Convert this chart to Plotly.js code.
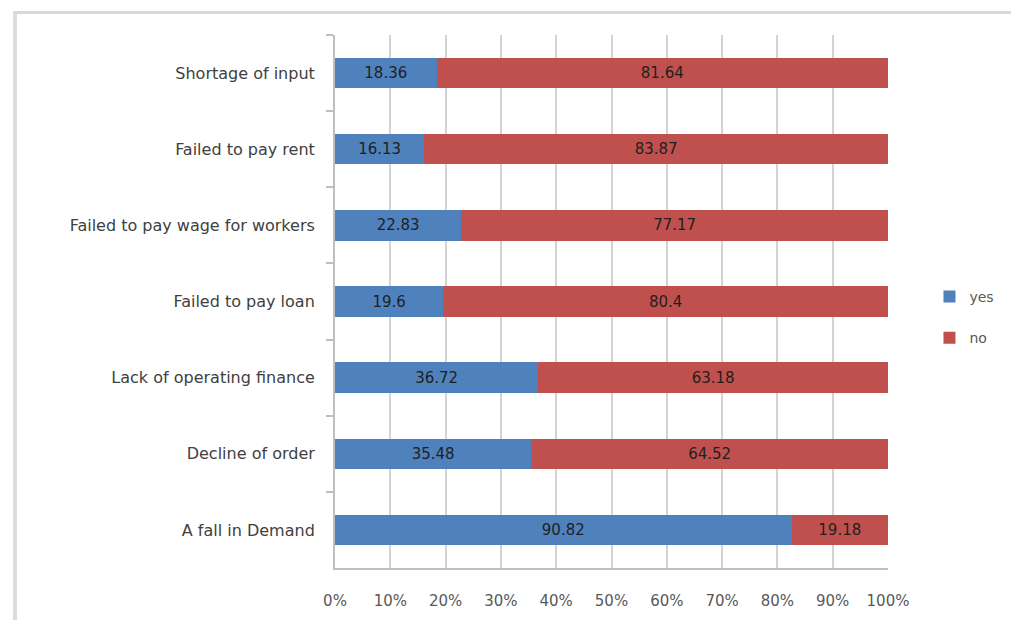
<!DOCTYPE html>
<html>
<head>
<meta charset="utf-8">
<script src="https://cdn.plot.ly/plotly-3.0.1.min.js"></script>
<style>
  html, body { margin: 0; padding: 0; background: #ffffff; }
  #wrap { position: relative; width: 1011px; height: 620px; }
  #chart { position: absolute; left: 0; top: 0; width: 1011px; height: 620px; }
  #frameTop { position: absolute; left: 13px; top: 11px; width: 998px; height: 3px; background: #d8d8d6; }
  #frameLeft { position: absolute; left: 13px; top: 11px; width: 4px; height: 609px; background: #dcdcdc; }
</style>
</head>
<body>
<div id="wrap">
  <div id="chart"></div>
  <div id="frameTop"></div>
  <div id="frameLeft"></div>
</div>
<script>
const categories = [
  "Shortage of input",
  "Failed to pay rent",
  "Failed to pay wage for workers",
  "Failed to pay loan",
  "Lack of operating finance",
  "Decline of order",
  "A fall in Demand"
];
const yesValues = [18.36, 16.13, 22.83, 19.6, 36.72, 35.48, 90.82];
const noValues  = [81.64, 83.87, 77.17, 80.4, 63.18, 64.52, 19.18];
const xTickValues = [0, 10, 20, 30, 40, 50, 60, 70, 80, 90, 100];
const xTickLabels = ["0%", "10%", "20%", "30%", "40%", "50%", "60%", "70%", "80%", "90%", "100%"];

const fontFamily = "DejaVu Sans, Liberation Sans, sans-serif";
const labelFont = { family: fontFamily, size: 15, color: "#1f1f1f" };

const traces = [
  {
    type: "bar", orientation: "h", name: "yes", legendgroup: "g1",
    y: categories, x: yesValues,
    text: yesValues.map(String), texttemplate: "%{text}",
    textposition: "inside", insidetextanchor: "middle",
    textfont: labelFont, constraintext: "none",
    marker: { color: "#4f81bd" },
    hoverinfo: "skip"
  },
  {
    type: "bar", orientation: "h", name: "no", legendgroup: "g2",
    y: categories, x: noValues,
    text: noValues.map(String), texttemplate: "%{text}",
    textposition: "inside", insidetextanchor: "middle",
    textfont: labelFont, constraintext: "none",
    marker: { color: "#c0504d" },
    hoverinfo: "skip"
  }
];

const layout = {
  width: 1011, height: 620,
  margin: { l: 335, r: 123, t: 35, b: 52 },
  paper_bgcolor: "#ffffff", plot_bgcolor: "#ffffff",
  barmode: "stack", barnorm: "percent", bargap: 0.6,
  font: { family: fontFamily, color: "#404040" },
  xaxis: {
    range: [0, 100], tickmode: "array", tickvals: xTickValues, ticktext: xTickLabels,
    showgrid: true, gridcolor: "#d3d3d3", gridwidth: 2,
    zeroline: false, showline: true, linecolor: "#bfbfbf", linewidth: 2,
    ticks: "", ticklabelstandoff: 18,
    tickfont: { family: fontFamily, size: 15, color: "#595959" }, fixedrange: true
  },
  yaxis: {
    autorange: "reversed", type: "category",
    showgrid: false, zeroline: false, showline: true, linecolor: "#bfbfbf", linewidth: 2,
    ticks: "outside", tickson: "boundaries", ticklen: 7, tickcolor: "#bfbfbf", tickwidth: 2,
    ticklabelstandoff: 15,
    tickfont: { family: fontFamily, size: 16, color: "#404040" }, fixedrange: true
  },
  showlegend: true,
  legend: {
    x: 1.075, y: 0.47, xanchor: "left", yanchor: "middle",
    traceorder: "grouped", tracegroupgap: 20,
    font: { family: fontFamily, size: 14, color: "#595959" },
    itemwidth: 30, bgcolor: "rgba(0,0,0,0)"
  }
};

Plotly.newPlot("chart", traces, layout, { displayModeBar: false, staticPlot: true });
</script>
</body>
</html>
